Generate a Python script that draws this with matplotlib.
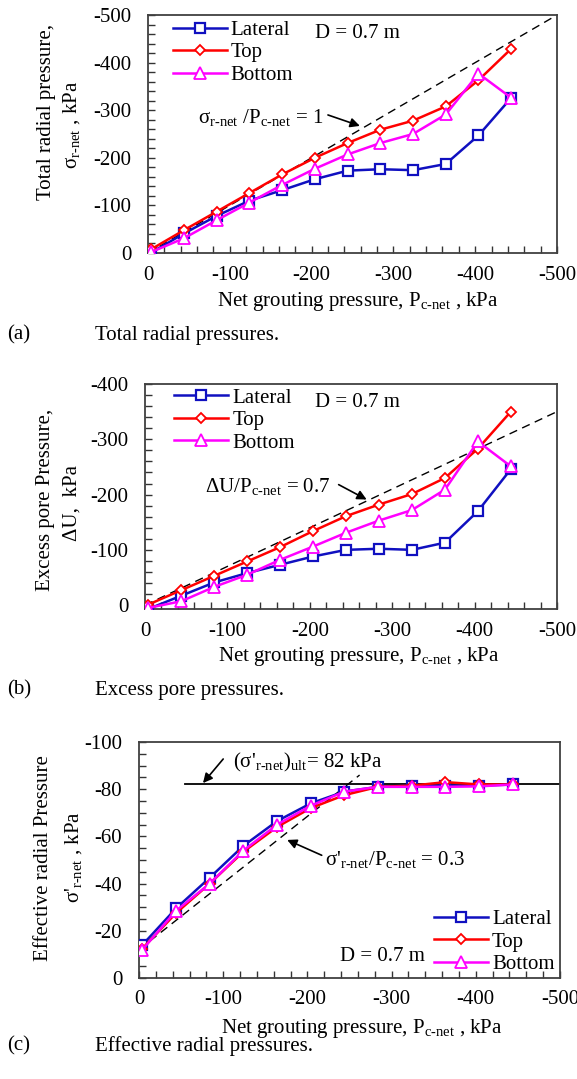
import matplotlib
matplotlib.use("Agg")
import matplotlib.pyplot as plt
from matplotlib.ticker import MultipleLocator

plt.rcParams['font.family'] = ['Liberation Serif', 'DejaVu Serif']
plt.rcParams['mathtext.fontset'] = 'custom'
plt.rcParams['mathtext.rm'] = 'Liberation Serif'
plt.rcParams['mathtext.it'] = 'Liberation Serif:italic'
plt.rcParams['mathtext.default'] = 'rm'
plt.rcParams['axes.unicode_minus'] = False

# ---------------- data ----------------
p_net = [-4, -44, -84, -124, -164, -204, -244, -284, -324, -364, -404, -444]

# (a) total radial pressure
a_lateral = [-1, -41, -78, -110, -132, -155, -173, -176, -174, -187, -247, -326]
a_top = [-8, -48, -87, -126, -165, -200, -231, -259, -278, -308, -363, -429]
a_bottom = [-2, -31, -69, -106, -143, -177, -207, -231, -250, -291, -377, -326]
a_ref_x = [0, -500]
a_ref_y = [0, -500]

# (b) excess pore pressure
b_lateral = [7, -17, -41, -58, -73, -88, -100, -102, -100, -113, -170, -246]
b_top = [-1, -27, -53, -79, -105, -134, -161, -182, -201, -230, -283, -350]
b_bottom = [5, -7, -33, -55, -82, -106, -131, -153, -172, -209, -296, -251]
b_ref_x = [0, -500]
b_ref_y = [0, -350]

# (c) effective radial pressure
c_lateral = [-14, -29.5, -42.5, -56, -66.5, -74, -79, -81, -81.5, -81.5, -81.5, -82]
c_top = [-12.5, -27.5, -40, -53.5, -64, -72, -77.5, -81, -81.5, -83, -82, -82]
c_bottom = [-12, -28.5, -40, -54, -65, -73, -79, -81, -81, -81, -81.2, -82]
c_ref_x = [0, -262]
c_ref_y = [-12, -86]
c_ult_x = [-55, -500]
c_ult_y = [-82, -82]

series_names = ["Lateral", "Top", "Bottom"]
x_ticks = [0, -100, -200, -300, -400, -500]

# ---------------- figure ----------------
W, H = 577, 1079
fig = plt.figure(figsize=(W / 100, H / 100), dpi=100)
FS = 15


def add_ax(l, r, t, b):
    return fig.add_axes([l / W, 1 - b / H, (r - l) / W, (b - t) / H])


def fx(px):
    return px / W


def fy(py):
    return 1 - py / H


styles = [
    dict(color='#1010C0', marker='s', ms=7.5, mfc='white', mew=1.6, lw=1.8),
    dict(color='#FF0000', marker='D', ms=5.6, mfc='white', mew=1.3, lw=1.8),
    dict(color='#FF00FF', marker='^', ms=8.0, mfc='white', mew=1.3, lw=1.8),
]


def style_axes(ax, xlim, ylim, ymajor, yminor):
    ax.set_xlim(*xlim)
    ax.set_ylim(*ylim)
    ax.set_xticks(x_ticks)
    ax.xaxis.set_minor_locator(MultipleLocator(20))
    ax.yaxis.set_major_locator(MultipleLocator(ymajor))
    ax.yaxis.set_minor_locator(MultipleLocator(yminor))
    ax.set_yticks([t for t in ax.get_yticks() if min(ylim) - 1e-9 <= t <= max(ylim) + 1e-9])
    ax.tick_params(which='both', direction='in', top=False, right=False,
                   length=5, width=1.0, colors='#333333', labelcolor='black',
                   labelsize=FS)
    ax.tick_params(axis='y', which='both', pad=12)
    ax.tick_params(axis='x', which='both', pad=9)
    ax.xaxis.set_major_formatter(matplotlib.ticker.FuncFormatter(lambda v, p: f"{v:g}"))
    ax.yaxis.set_major_formatter(matplotlib.ticker.FuncFormatter(lambda v, p: f"{v:g}"))
    for s in ax.spines.values():
        s.set_color('#404040')
        s.set_linewidth(1.3)


def plot_series(ax, ys):
    hs = []
    for y, st, name in zip(ys, styles, series_names):
        h, = ax.plot(p_net, y, label=name, zorder=3, **st)
        hs.append(h)
    return hs


def legend(ax, x, y):
    lg = ax.legend(loc='upper left', bbox_to_anchor=(x, y), frameon=False,
                   fontsize=FS, handlelength=2.6, handletextpad=0.2,
                   labelspacing=0.14, borderpad=0, borderaxespad=0)
    return lg


arrow = dict(arrowstyle='-|>', color='black', lw=1.2, mutation_scale=14,
             shrinkA=0, shrinkB=0)
HY = "\u2010"
sub_r = "$_\\mathrm{r" + HY + "net}$"
sub_c = "$_\\mathrm{c" + HY + "net}$"

# ---------- panel (a) ----------
axa = add_ax(148, 557, 15, 253)
axa.plot(a_ref_x, a_ref_y, color='black', ls=(0, (6, 4)), lw=1.0, zorder=2)
plot_series(axa, [a_lateral, a_top, a_bottom])
style_axes(axa, (0, -500), (0, -500), 100, 20)
legend(axa, 0.06, 0.978)
axa.text(-204, -462, "D = 0.7 m", fontsize=FS, va='center', ha='left')
axa.text(-61, -284, "σ" + sub_r + " /P" + sub_c + " = 1", fontsize=FS, va='center', ha='left')
axa.annotate('', xy=(-259, -267), xytext=(-220, -290), arrowprops=arrow)

# ---------- panel (b) ----------
axb = add_ax(145, 557, 384, 609)
axb.plot(b_ref_x, b_ref_y, color='black', ls=(0, (6, 4)), lw=1.0, zorder=2)
plot_series(axb, [b_lateral, b_top, b_bottom])
style_axes(axb, (0, -500), (7, -400), 100, 20)
legend(axb, 0.07, 0.982)
axb.text(-206, -366, "D = 0.7 m", fontsize=FS, va='center', ha='left')
axb.text(-73, -214, "ΔU/P" + sub_c + " = 0.7", fontsize=FS, va='center', ha='left')
axb.annotate('', xy=(-269, -191), xytext=(-235, -218), arrowprops=arrow)

# ---------- panel (c) ----------
axc = add_ax(139, 560, 742, 978)
axc.plot(c_ref_x, c_ref_y, color='black', ls=(0, (6, 4)), lw=1.0, zorder=2)
axc.plot(c_ult_x, c_ult_y, color='black', lw=1.3, zorder=2)
plot_series(axc, [c_lateral, c_top, c_bottom])
style_axes(axc, (0, -500), (0, -100), 20, 5)
legend(axc, 0.70, 0.29)
axc.text(-239, -9.3, "D = 0.7 m", fontsize=FS, va='center', ha='left')
axc.text(-112, -91.5, "(σ'" + sub_r + ")" + "$_\\mathrm{ult}$" + "= 82 kPa",
         fontsize=FS, va='center', ha='left')
axc.annotate('', xy=(-76, -82.6), xytext=(-100, -92.8), arrowprops=arrow)
axc.text(-221, -50, "σ'" + sub_r + "/P" + sub_c + " = 0.3", fontsize=FS, va='center', ha='left')
axc.annotate('', xy=(-176, -58.5), xytext=(-217, -52), arrowprops=arrow)

# ---------- axis labels & captions ----------
xlab = "Net grouting pressure, P" + sub_c + " , kPa"
fig.text(fx(358), fy(302), xlab, fontsize=FS, ha='center', va='center')
fig.text(fx(359), fy(657), xlab, fontsize=FS, ha='center', va='center')
fig.text(fx(362), fy(1028), xlab, fontsize=FS, ha='center', va='center')

fig.text(fx(47), fy(112), "Total radial pressure,", fontsize=FS, rotation=90, ha='center', va='center')
fig.text(fx(72), fy(125), "σ" + sub_r + " , kPa", fontsize=FS, rotation=90, ha='center', va='center')
fig.text(fx(46), fy(500), "Excess pore Pressure,", fontsize=FS, rotation=90, ha='center', va='center')
fig.text(fx(72), fy(503), "ΔU,  kPa", fontsize=FS, rotation=90, ha='center', va='center')
fig.text(fx(44), fy(858), "Effective radial Pressure", fontsize=FS, rotation=90, ha='center', va='center')
fig.text(fx(74), fy(857), "σ'" + sub_r + " , kPa", fontsize=FS, rotation=90, ha='center', va='center')

captions = [("(a)", "Total radial pressures.", 335),
            ("(b)", "Excess pore pressures.", 690),
            ("(c)", "Effective radial pressures.", 1046)]
for tag, cap, py in captions:
    fig.text(fx(7), fy(py), tag, fontsize=FS, ha='left', va='center')
    fig.text(fx(95), fy(py), cap, fontsize=FS, ha='left', va='center')

fig.savefig("out.png", dpi=100)
